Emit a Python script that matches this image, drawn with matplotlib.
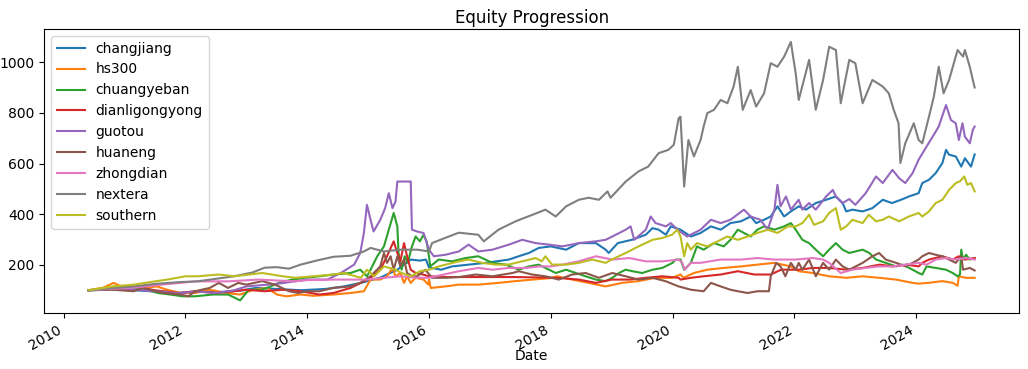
import matplotlib
matplotlib.use("Agg")
import matplotlib.pyplot as plt
import matplotlib.dates as mdates
from datetime import datetime, timedelta

# ---- data (decimal year, value) ----
nextera_t = [2010.41, 2010.8, 2011.15, 2011.5, 2011.9, 2012.2, 2012.5, 2012.8, 2013.1, 2013.3, 2013.5, 2013.7,
             2013.89, 2014.17, 2014.43, 2014.71, 2014.93, 2015.04, 2015.26, 2015.53, 2015.81, 2016.0, 2016.05,
             2016.25, 2016.49, 2016.81, 2016.9, 2017.14, 2017.42, 2017.7, 2017.91, 2018.08, 2018.25, 2018.46,
             2018.62, 2018.79, 2018.93, 2018.98, 2019.23, 2019.44, 2019.6, 2019.77, 2019.93, 2020.02, 2020.1,
             2020.13, 2020.19, 2020.26, 2020.35, 2020.46, 2020.51, 2020.57, 2020.68, 2020.79, 2020.9, 2021.0,
             2021.07, 2021.15, 2021.28, 2021.37, 2021.5, 2021.61, 2021.72, 2021.83, 2021.94, 2022.02, 2022.07,
             2022.24, 2022.35, 2022.47, 2022.57, 2022.68, 2022.76, 2022.9, 2023.0, 2023.12, 2023.28, 2023.45,
             2023.55, 2023.63, 2023.71, 2023.74, 2023.82, 2023.96, 2024.04, 2024.1, 2024.21, 2024.29, 2024.37,
             2024.45, 2024.54, 2024.68, 2024.77, 2024.8, 2024.88, 2024.93, 2024.96]
nextera = [100, 108, 115, 125, 132, 135, 145, 155, 170, 189, 191, 185,
           201, 218, 232, 236, 253, 267, 253, 260, 260, 253, 286,
           305, 327, 319, 293, 339, 372, 398, 418, 391, 431, 457,
           465, 457, 490, 465, 529, 569, 588, 641, 654, 674, 779,
           785, 509, 693, 628, 693, 746, 799, 812, 851, 838, 904,
           982, 812, 890, 825, 877, 996, 982, 1022, 1080, 956, 851,
           1009, 812, 930, 1061, 1048, 838, 1009, 996, 838, 930, 904,
           877, 812, 759, 602, 680, 759, 693, 680, 785, 864, 982,
           877, 930, 1048, 1022, 1048, 982, 930, 900]

guotou_t = [2010.41, 2010.8, 2011.15, 2011.5, 2011.9, 2012.2, 2012.5, 2012.8, 2013.0, 2013.5, 2014.0, 2014.33,
            2014.55, 2014.77, 2014.87, 2014.93, 2014.98, 2015.04, 2015.09, 2015.2, 2015.28, 2015.34, 2015.4,
            2015.45, 2015.48, 2015.7, 2015.72, 2015.8, 2015.91, 2016.0, 2016.08, 2016.27, 2016.49, 2016.65,
            2016.81, 2017.04, 2017.31, 2017.53, 2017.75, 2017.96, 2018.19, 2018.46, 2018.74, 2018.9, 2019.01,
            2019.23, 2019.31, 2019.37, 2019.56, 2019.64, 2019.72, 2019.89, 2019.97, 2020.08, 2020.24, 2020.46,
            2020.63, 2020.79, 2020.95, 2021.17, 2021.28, 2021.44, 2021.56, 2021.67, 2021.72, 2021.77, 2021.86,
            2021.94, 2022.07, 2022.13, 2022.24, 2022.35, 2022.52, 2022.63, 2022.68, 2022.79, 2022.9, 2023.0,
            2023.17, 2023.34, 2023.45, 2023.61, 2023.72, 2023.82, 2023.94, 2024.04, 2024.17, 2024.27, 2024.37,
            2024.49, 2024.57, 2024.65, 2024.7, 2024.76, 2024.8, 2024.88, 2024.93, 2024.96]
guotou = [100, 105, 102, 96, 88, 95, 89, 100, 115, 125, 142, 142,
          168, 201, 247, 326, 437, 378, 332, 378, 424, 483, 424,
          450, 529, 529, 339, 332, 326, 260, 234, 240, 253, 280,
          253, 260, 280, 299, 286, 280, 273, 286, 293, 299, 312,
          339, 352, 299, 339, 391, 365, 352, 365, 339, 312, 339,
          378, 365, 378, 418, 391, 378, 339, 418, 516, 431, 470,
          418, 457, 418, 444, 418, 470, 496, 470, 444, 460, 437,
          483, 549, 523, 575, 542, 523, 562, 615, 667, 706, 746,
          831, 772, 759, 693, 759, 706, 680, 733, 746]

changjiang_t = [2010.41, 2010.8, 2011.15, 2011.5, 2011.9, 2012.2, 2012.5, 2012.9, 2013.15, 2013.5, 2013.89, 2014.3,
                2014.6, 2014.9, 2015.2, 2015.48, 2015.7, 2015.85, 2015.95, 2016.0, 2016.2, 2016.38, 2016.65,
                2016.93, 2017.31, 2017.47, 2017.64, 2017.8, 2018.0, 2018.25, 2018.46, 2018.74, 2018.9, 2018.95,
                2019.1, 2019.33, 2019.56, 2019.67, 2019.77, 2019.89, 2019.97, 2020.13, 2020.3, 2020.46, 2020.63,
                2020.79, 2020.95, 2021.12, 2021.28, 2021.37, 2021.5, 2021.61, 2021.72, 2021.83, 2021.94, 2022.07,
                2022.19, 2022.35, 2022.52, 2022.68, 2022.79, 2022.85, 2022.95, 2023.12, 2023.28, 2023.45, 2023.6,
                2023.75, 2023.88, 2024.04, 2024.1, 2024.21, 2024.32, 2024.43, 2024.49, 2024.54, 2024.65, 2024.74,
                2024.8, 2024.9, 2024.96]
changjiang = [100, 103, 100, 95, 90, 95, 92, 98, 109, 105, 100, 105,
              115, 130, 150, 181, 221, 217, 221, 190, 181, 194, 201,
              208, 221, 234, 247, 267, 273, 260, 286, 286, 260, 247,
              286, 299, 319, 345, 339, 319, 352, 339, 312, 326, 352,
              339, 365, 372, 391, 365, 378, 391, 431, 391, 411, 431,
              418, 444, 457, 470, 444, 411, 418, 411, 424, 457, 444,
              457, 470, 483, 523, 536, 562, 602, 654, 635, 628, 588,
              621, 588, 636]

southern_t = [2010.41, 2010.8, 2011.15, 2011.5, 2011.7, 2012.0, 2012.2, 2012.55, 2012.8, 2013.26, 2013.6, 2013.8,
              2014.1, 2014.43, 2014.6, 2014.88, 2014.98, 2015.1, 2015.26, 2015.45, 2015.55, 2015.7, 2015.85,
              2016.0, 2016.16, 2016.49, 2016.65, 2016.87, 2017.1, 2017.3, 2017.53, 2017.75, 2017.85, 2017.91,
              2018.02, 2018.25, 2018.46, 2018.68, 2018.9, 2019.0, 2019.23, 2019.44, 2019.67, 2019.83, 2019.99,
              2020.08, 2020.13, 2020.19, 2020.24, 2020.3, 2020.4, 2020.57, 2020.68, 2020.9, 2021.07, 2021.23,
              2021.39, 2021.56, 2021.72, 2021.89, 2022.02, 2022.13, 2022.24, 2022.32, 2022.47, 2022.57, 2022.68,
              2022.76, 2022.85, 2022.95, 2023.12, 2023.22, 2023.34, 2023.45, 2023.55, 2023.72, 2023.88, 2024.04,
              2024.1, 2024.21, 2024.32, 2024.43, 2024.54, 2024.65, 2024.72, 2024.79, 2024.84, 2024.9, 2024.96]
southern = [100, 115, 122, 135, 142, 155, 155, 162, 155, 168, 155, 149,
            155, 162, 168, 149, 181, 155, 194, 181, 168, 155, 175,
            181, 194, 214, 221, 208, 201, 201, 214, 227, 214, 234,
            201, 201, 208, 221, 208, 221, 247, 273, 299, 306, 319,
            339, 312, 234, 286, 260, 286, 273, 286, 312, 299, 312,
            326, 339, 326, 352, 352, 365, 398, 358, 372, 405, 424,
            339, 352, 378, 365, 398, 372, 378, 391, 372, 391, 405,
            391, 411, 444, 457, 496, 523, 530, 549, 516, 523, 490]

chuangyeban_t = [2010.41, 2010.8, 2011.15, 2011.35, 2011.55, 2011.75, 2011.95, 2012.16, 2012.45, 2012.7, 2012.9,
                 2013.04, 2013.25, 2013.4, 2013.53, 2013.75, 2013.95, 2014.2, 2014.43, 2014.71, 2014.87, 2014.98,
                 2015.04, 2015.15, 2015.26, 2015.34, 2015.42, 2015.48, 2015.5, 2015.55, 2015.6, 2015.65, 2015.72,
                 2015.78, 2015.85, 2015.91, 2015.96, 2016.0, 2016.02, 2016.16, 2016.38, 2016.6, 2016.81, 2017.04,
                 2017.26, 2017.47, 2017.64, 2017.8, 2017.91, 2018.08, 2018.25, 2018.41, 2018.57, 2018.74, 2018.9,
                 2019.01, 2019.12, 2019.23, 2019.34, 2019.5, 2019.67, 2019.83, 2020.0, 2020.05, 2020.13, 2020.19,
                 2020.3, 2020.4, 2020.51, 2020.68, 2020.84, 2020.95, 2021.07, 2021.17, 2021.28, 2021.39, 2021.5,
                 2021.67, 2021.83, 2021.94, 2022.02, 2022.13, 2022.24, 2022.35, 2022.47, 2022.57, 2022.68, 2022.79,
                 2022.9, 2023.0, 2023.12, 2023.23, 2023.34, 2023.5, 2023.67, 2023.78, 2023.94, 2024.04, 2024.1,
                 2024.17, 2024.32, 2024.49, 2024.6, 2024.68, 2024.72, 2024.74, 2024.77, 2024.82, 2024.88, 2024.96]
chuangyeban = [100, 102, 109, 102, 89, 83, 76, 76, 83, 83, 60,
               102, 102, 115, 129, 142, 149, 155, 162, 168, 181, 155,
               181, 234, 273, 339, 405, 352, 247, 181, 234, 208, 273,
               312, 293, 319, 293, 234, 194, 221, 214, 227, 234, 208,
               201, 181, 194, 201, 188, 168, 181, 168, 155, 142, 136,
               149, 168, 181, 175, 168, 181, 188, 208, 221, 221, 181,
               208, 273, 260, 286, 273, 299, 339, 326, 312, 339, 352,
               339, 352, 365, 339, 299, 286, 260, 234, 260, 286, 260,
               247, 253, 260, 247, 221, 208, 194, 201, 181, 168, 162,
               194, 188, 181, 168, 155, 162, 260, 221, 240, 221, 227]

dianli_t = [2010.41, 2010.8, 2011.15, 2011.5, 2011.9, 2012.16, 2012.5, 2012.8, 2012.99, 2013.3, 2013.6, 2013.89,
            2014.2, 2014.43, 2014.71, 2014.88, 2015.04, 2015.2, 2015.31, 2015.42, 2015.48, 2015.53, 2015.59,
            2015.64, 2015.7, 2015.78, 2015.9, 2016.0, 2016.3, 2016.8, 2017.4, 2017.9, 2018.1, 2018.46, 2018.74,
            2019.0, 2019.3, 2019.56, 2019.83, 2020.1, 2020.13, 2020.3, 2020.51, 2020.79, 2021.07, 2021.34,
            2021.61, 2021.78, 2022.07, 2022.3, 2022.57, 2022.85, 2023.12, 2023.4, 2023.62, 2023.84, 2024.04,
            2024.1, 2024.21, 2024.43, 2024.6, 2024.7, 2024.8, 2024.96]
dianli = [100, 108, 115, 100, 89, 96, 89, 96, 102, 96, 102, 96,
          83, 89, 109, 129, 149, 181, 234, 293, 247, 214, 286,
          234, 181, 168, 162, 155, 152, 152, 152, 150, 149, 142, 129,
          142, 142, 149, 155, 149, 142, 149, 155, 162, 175, 162,
          162, 181, 181, 188, 188, 181, 188, 201, 194, 201, 194,
          208, 221, 234, 221, 234, 221, 227]

huaneng_t = [2010.41, 2010.8, 2011.15, 2011.3, 2011.64, 2011.92, 2012.05, 2012.16, 2012.4, 2012.55, 2012.7, 2012.87,
             2013.0, 2013.26, 2013.47, 2013.7, 2013.85, 2014.0, 2014.2, 2014.43, 2014.71, 2014.87, 2015.04,
             2015.2, 2015.26, 2015.31, 2015.37, 2015.42, 2015.48, 2015.53, 2015.59, 2015.64, 2015.72, 2015.81,
             2015.94, 2016.05, 2016.27, 2016.49, 2016.77, 2017.04, 2017.37, 2017.47, 2017.69, 2017.91, 2018.13,
             2018.35, 2018.57, 2018.79, 2019.01, 2019.23, 2019.44, 2019.67, 2019.88, 2020.1, 2020.3, 2020.51,
             2020.63, 2020.79, 2020.95, 2021.07, 2021.23, 2021.39, 2021.58, 2021.61, 2021.7, 2021.77, 2021.85,
             2021.94, 2022.02, 2022.07, 2022.13, 2022.24, 2022.35, 2022.47, 2022.57, 2022.68, 2022.79, 2022.9,
             2023.12, 2023.28, 2023.39, 2023.5, 2023.67, 2023.83, 2023.94, 2024.04, 2024.1, 2024.21, 2024.32,
             2024.43, 2024.54, 2024.65, 2024.74, 2024.77, 2024.88, 2024.96]
huaneng = [100, 102, 96, 109, 89, 83, 76, 96, 109, 129, 109, 129,
           122, 136, 122, 96, 89, 96, 96, 109, 115, 129, 155,
           194, 247, 208, 234, 181, 234, 194, 221, 168, 155, 155,
           181, 149, 149, 152, 162, 155, 168, 175, 162, 155, 142,
           162, 168, 149, 168, 155, 142, 149, 136, 115, 102, 96,
           129, 115, 102, 96, 89, 96, 96, 155, 208, 194, 155,
           208, 181, 208, 181, 221, 155, 208, 181, 221, 194, 181,
           208, 234, 247, 221, 208, 194, 208, 221, 234, 247, 240,
           234, 221, 208, 234, 181, 188, 178]

zhongdian_t = [2010.41, 2010.8, 2011.15, 2011.6, 2011.92, 2012.16, 2012.7, 2013.2, 2013.8, 2014.0, 2014.43, 2014.98,
               2015.26, 2015.53, 2015.81, 2016.0, 2016.05, 2016.49, 2016.81, 2017.04, 2017.31, 2017.59, 2017.81,
               2018.0, 2018.19, 2018.46, 2018.74, 2019.01, 2019.29, 2019.56, 2019.83, 2020.1, 2020.16, 2020.2,
               2020.3, 2020.46, 2020.79, 2021.12, 2021.39, 2021.67, 2021.94, 2022.02, 2022.3, 2022.47, 2022.57,
               2022.76, 2022.95, 2023.17, 2023.39, 2023.61, 2023.83, 2024.04, 2024.17, 2024.32, 2024.49, 2024.65,
               2024.82, 2024.96]
zhongdian = [100, 105, 110, 122, 129, 135, 135, 142, 135, 140, 142, 142,
             149, 155, 149, 149, 152, 175, 188, 181, 188, 188, 194,
             194, 201, 214, 234, 221, 227, 214, 214, 221, 208, 181,
             208, 208, 221, 221, 227, 221, 221, 221, 227, 221, 208,
             168, 181, 188, 194, 194, 201, 208, 201, 221, 227, 221,
             227, 221]

hs300_t = [2010.41, 2010.65, 2010.82, 2010.95, 2011.32, 2011.53, 2011.7, 2011.92, 2012.16, 2012.4, 2012.68, 2012.9,
           2013.12, 2013.34, 2013.5, 2013.66, 2013.89, 2014.1, 2014.43, 2014.71, 2014.93, 2015.04, 2015.2, 2015.31,
           2015.4, 2015.45, 2015.53, 2015.59, 2015.64, 2015.7, 2015.78, 2015.91, 2015.99, 2016.0, 2016.03, 2016.27,
           2016.49, 2016.81, 2017.14, 2017.42, 2017.7, 2018.0, 2018.1, 2018.35, 2018.62, 2018.9, 2019.17, 2019.44,
           2019.72, 2019.99, 2020.13, 2020.18, 2020.35, 2020.57, 2020.84, 2021.12, 2021.39, 2021.67, 2021.94,
           2022.07, 2022.3, 2022.57, 2022.85, 2023.12, 2023.39, 2023.67, 2023.94, 2024.04, 2024.2, 2024.43, 2024.6,
           2024.68, 2024.7, 2024.82, 2024.96]
hs300 = [100, 110, 129, 115, 109, 115, 102, 89, 89, 102, 89, 83,
         102, 109, 83, 76, 83, 78, 83, 89, 96, 142, 142, 155,
         188, 155, 168, 129, 155, 129, 149, 142, 122, 142, 109, 115,
         122, 122, 129, 136, 142, 148, 155, 142, 129, 115, 129, 136,
         149, 149, 162, 149, 168, 181, 188, 194, 201, 208, 194,
         175, 168, 155, 149, 155, 149, 142, 129, 126, 129, 136, 129,
         118, 155, 149, 149]

series_names = ["changjiang", "hs300", "chuangyeban", "dianligongyong", "guotou",
                "huaneng", "zhongdian", "nextera", "southern"]
series_data = [(changjiang_t, changjiang), (hs300_t, hs300), (chuangyeban_t, chuangyeban),
               (dianli_t, dianli), (guotou_t, guotou), (huaneng_t, huaneng),
               (zhongdian_t, zhongdian), (nextera_t, nextera), (southern_t, southern)]


def to_dates(years):
    out = []
    for y in years:
        base = datetime(int(y), 1, 1)
        out.append(base + timedelta(days=(y - int(y)) * 365.25))
    return out


fig = plt.figure(figsize=(10.28, 3.69), dpi=100)
ax = fig.add_axes([0.0431, 0.151, 0.9481, 0.7704])

for name, (t, v) in zip(series_names, series_data):
    ax.plot(to_dates(t), v, label=name, lw=1.5)

ax.set_title("Equity Progression", pad=4.5)
ax.set_xlabel("Date", labelpad=-3)
ax.xaxis.set_major_locator(mdates.YearLocator(2))
ax.xaxis.set_major_formatter(mdates.DateFormatter("%Y"))
for lbl in ax.get_xticklabels():
    lbl.set_rotation(30)
    lbl.set_ha("right")
ax.legend(loc="upper left")

fig.savefig("out.png", dpi=100)
